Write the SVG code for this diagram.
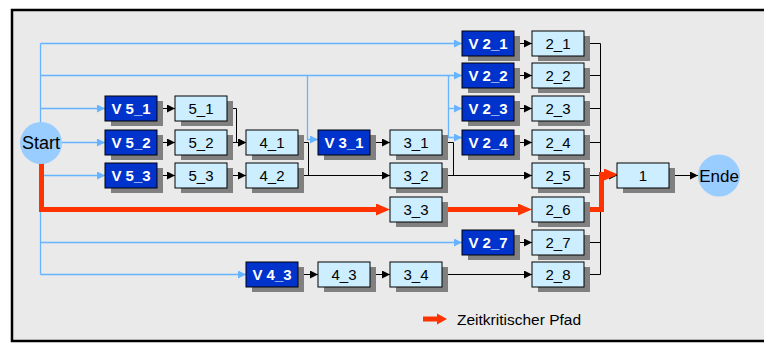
<svg xmlns="http://www.w3.org/2000/svg" width="764" height="343" viewBox="0 0 764 343">
<style>
text{font-family:"Liberation Sans",Arial,sans-serif;text-anchor:middle}
.sh{fill:#808080}
.v{fill:#0033cc;stroke:#000;stroke-width:1}
.n{fill:#cceeff;stroke:#000;stroke-width:1}
.vt{fill:#fff;font-weight:bold;font-size:15px}
.nt{fill:#000;font-size:15px}
.c{fill:#99ccff}
.ct{fill:#000;font-size:17px}
.bl{fill:none;stroke:#66b3ff;stroke-width:1.3}
.bk{fill:none;stroke:#000;stroke-width:1}
.rd{fill:none;stroke:#ff3300;stroke-width:5}
</style>
<defs>
<marker id="ab" markerUnits="userSpaceOnUse" markerWidth="8" markerHeight="8" refX="8" refY="4" orient="auto"><path d="M0,0 L8,4 L0,8 z" fill="#000"/></marker>
<marker id="au" markerUnits="userSpaceOnUse" markerWidth="8" markerHeight="8" refX="8" refY="4" orient="auto"><path d="M0,0 L8,4 L0,8 z" fill="#66b3ff"/></marker>
<marker id="ar" markerUnits="userSpaceOnUse" markerWidth="14" markerHeight="12" refX="0" refY="6" orient="auto"><path d="M0,0 L14,6 L0,12 z" fill="#ff3300"/></marker>
</defs>
<rect x="12" y="10" width="770" height="331" fill="#eaeaea" stroke="#000" stroke-width="2.5"/>

<g id="connectors">
<path class="bl" d="M40.5,43.5 V274.5"/>
<path class="bl" d="M40.5,43.5 H462" marker-end="url(#au)"/>
<path class="bl" d="M40.5,75.5 H462" marker-end="url(#au)"/>
<path class="bl" d="M307.5,75.5 V139.5 H318" marker-end="url(#au)"/>
<path class="bl" d="M448.5,75.5 V137.5 H462" marker-end="url(#au)"/>
<path class="bl" d="M448.5,108.5 H462" marker-end="url(#au)"/>
<path class="bl" d="M40.5,108.5 H105" marker-end="url(#au)"/>
<path class="bl" d="M62,142.5 H105" marker-end="url(#au)"/>
<path class="bl" d="M40.5,175.5 H105" marker-end="url(#au)"/>
<path class="bl" d="M40.5,242.5 H462" marker-end="url(#au)"/>
<path class="bl" d="M40.5,274.5 H246" marker-end="url(#au)"/>

<path class="bk" d="M157,108.5 H175" marker-end="url(#ab)"/>
<path class="bk" d="M157,142.5 H175" marker-end="url(#ab)"/>
<path class="bk" d="M157,175.5 H175" marker-end="url(#ab)"/>
<path class="bk" d="M227,108.5 H236.5 V142.5 H246" marker-end="url(#ab)"/>
<path class="bk" d="M227,142.5 H246" marker-end="url(#ab)"/>
<path class="bk" d="M227,175.5 H246" marker-end="url(#ab)"/>
<path class="bk" d="M298,142.5 H308.5 V175.5"/>
<path class="bk" d="M298,175.5 H390" marker-end="url(#ab)"/>
<path class="bk" d="M370,142.5 H390" marker-end="url(#ab)"/>
<path class="bk" d="M442,142.5 H453.5 V175.5"/>
<path class="bk" d="M442,175.5 H532" marker-end="url(#ab)"/>
<path class="bk" d="M514,43.5 H532" marker-end="url(#ab)"/>
<path class="bk" d="M514,75.5 H532" marker-end="url(#ab)"/>
<path class="bk" d="M514,108.5 H532" marker-end="url(#ab)"/>
<path class="bk" d="M514,142.5 H532" marker-end="url(#ab)"/>
<path class="bk" d="M514,242.5 H532" marker-end="url(#ab)"/>
<path class="bk" d="M298,274.5 H318" marker-end="url(#ab)"/>
<path class="bk" d="M370,274.5 H390" marker-end="url(#ab)"/>
<path class="bk" d="M442,274.5 H532" marker-end="url(#ab)"/>
<path class="bk" d="M585,43.5 H600.5 M585,75.5 H600.5 M585,108.5 H600.5 M585,142.5 H600.5 M585,175.5 H600.5 M585,242.5 H600.5 M585,274.5 H600.5"/>
<path class="bk" d="M600.5,43.5 V274.5"/>
<path class="bk" d="M600.5,175.5 H617" marker-end="url(#ab)"/>
<path class="bk" d="M669,175.5 H698" marker-end="url(#ab)"/>

<path class="rd" d="M41.5,160 V209.5 H376" marker-end="url(#ar)"/>
<path class="rd" d="M442,209.5 H518" marker-end="url(#ar)"/>
<path class="rd" d="M585,209.5 H601.5 V174.5 H604" marker-end="url(#ar)"/>
</g>

<g id="Start"><circle class="c" cx="41" cy="143" r="21"/><text class="ct" x="41" y="149" style="font-size:18px">Start</text></g>
<g id="Ende"><circle class="c" cx="719" cy="175.5" r="21"/><text class="ct" x="719" y="181.5">Ende</text></g>

<g id="V5_1"><rect class="sh" x="111" y="101" width="52" height="25"/><rect class="v" x="105" y="96" width="52" height="25"/><text class="vt" x="131" y="114">V 5_1</text></g>
<g id="n5_1"><rect class="sh" x="181" y="101" width="52" height="25"/><rect class="n" x="175" y="96" width="52" height="25"/><text class="nt" x="201" y="114">5_1</text></g>
<g id="V5_2"><rect class="sh" x="111" y="135" width="52" height="25"/><rect class="v" x="105" y="130" width="52" height="25"/><text class="vt" x="131" y="148">V 5_2</text></g>
<g id="n5_2"><rect class="sh" x="181" y="135" width="52" height="25"/><rect class="n" x="175" y="130" width="52" height="25"/><text class="nt" x="201" y="148">5_2</text></g>
<g id="V5_3"><rect class="sh" x="111" y="168" width="52" height="25"/><rect class="v" x="105" y="163" width="52" height="25"/><text class="vt" x="131" y="181">V 5_3</text></g>
<g id="n5_3"><rect class="sh" x="181" y="168" width="52" height="25"/><rect class="n" x="175" y="163" width="52" height="25"/><text class="nt" x="201" y="181">5_3</text></g>
<g id="n4_1"><rect class="sh" x="252" y="135" width="52" height="25"/><rect class="n" x="246" y="130" width="52" height="25"/><text class="nt" x="272" y="148">4_1</text></g>
<g id="n4_2"><rect class="sh" x="252" y="168" width="52" height="25"/><rect class="n" x="246" y="163" width="52" height="25"/><text class="nt" x="272" y="181">4_2</text></g>
<g id="V3_1"><rect class="sh" x="324" y="135" width="52" height="25"/><rect class="v" x="318" y="130" width="52" height="25"/><text class="vt" x="344" y="148">V 3_1</text></g>
<g id="n3_1"><rect class="sh" x="396" y="135" width="52" height="25"/><rect class="n" x="390" y="130" width="52" height="25"/><text class="nt" x="416" y="148">3_1</text></g>
<g id="n3_2"><rect class="sh" x="396" y="168" width="52" height="25"/><rect class="n" x="390" y="163" width="52" height="25"/><text class="nt" x="416" y="181">3_2</text></g>
<g id="n3_3"><rect class="sh" x="396" y="202" width="52" height="25"/><rect class="n" x="390" y="197" width="52" height="25"/><text class="nt" x="416" y="215">3_3</text></g>
<g id="V4_3"><rect class="sh" x="252" y="267" width="52" height="25"/><rect class="v" x="246" y="262" width="52" height="25"/><text class="vt" x="272" y="280">V 4_3</text></g>
<g id="n4_3"><rect class="sh" x="324" y="267" width="52" height="25"/><rect class="n" x="318" y="262" width="52" height="25"/><text class="nt" x="344" y="280">4_3</text></g>
<g id="n3_4"><rect class="sh" x="396" y="267" width="52" height="25"/><rect class="n" x="390" y="262" width="52" height="25"/><text class="nt" x="416" y="280">3_4</text></g>
<g id="V2_1"><rect class="sh" x="468" y="36" width="52" height="25"/><rect class="v" x="462" y="31" width="52" height="25"/><text class="vt" x="488" y="49">V 2_1</text></g>
<g id="V2_2"><rect class="sh" x="468" y="68" width="52" height="25"/><rect class="v" x="462" y="63" width="52" height="25"/><text class="vt" x="488" y="81">V 2_2</text></g>
<g id="V2_3"><rect class="sh" x="468" y="101" width="52" height="25"/><rect class="v" x="462" y="96" width="52" height="25"/><text class="vt" x="488" y="114">V 2_3</text></g>
<g id="V2_4"><rect class="sh" x="468" y="135" width="52" height="25"/><rect class="v" x="462" y="130" width="52" height="25"/><text class="vt" x="488" y="148">V 2_4</text></g>
<g id="V2_7"><rect class="sh" x="468" y="235" width="52" height="25"/><rect class="v" x="462" y="230" width="52" height="25"/><text class="vt" x="488" y="248">V 2_7</text></g>
<g id="n2_1"><rect class="sh" x="538" y="36" width="52" height="25"/><rect class="n" x="532" y="31" width="52" height="25"/><text class="nt" x="558" y="49">2_1</text></g>
<g id="n2_2"><rect class="sh" x="538" y="68" width="52" height="25"/><rect class="n" x="532" y="63" width="52" height="25"/><text class="nt" x="558" y="81">2_2</text></g>
<g id="n2_3"><rect class="sh" x="538" y="101" width="52" height="25"/><rect class="n" x="532" y="96" width="52" height="25"/><text class="nt" x="558" y="114">2_3</text></g>
<g id="n2_4"><rect class="sh" x="538" y="135" width="52" height="25"/><rect class="n" x="532" y="130" width="52" height="25"/><text class="nt" x="558" y="148">2_4</text></g>
<g id="n2_5"><rect class="sh" x="538" y="168" width="52" height="25"/><rect class="n" x="532" y="163" width="52" height="25"/><text class="nt" x="558" y="181">2_5</text></g>
<g id="n2_6"><rect class="sh" x="538" y="202" width="52" height="25"/><rect class="n" x="532" y="197" width="52" height="25"/><text class="nt" x="558" y="215">2_6</text></g>
<g id="n2_7"><rect class="sh" x="538" y="235" width="52" height="25"/><rect class="n" x="532" y="230" width="52" height="25"/><text class="nt" x="558" y="248">2_7</text></g>
<g id="n2_8"><rect class="sh" x="538" y="267" width="52" height="25"/><rect class="n" x="532" y="262" width="52" height="25"/><text class="nt" x="558" y="280">2_8</text></g>
<g id="n1"><rect class="sh" x="623" y="168" width="52" height="25"/><rect class="n" x="617" y="163" width="52" height="25"/><text class="nt" x="643" y="181">1</text></g>

<g id="legend">
<path d="M423,316.5 H437 V313.5 L447,319 L437,324.5 V321.5 H423 z" fill="#ff3300"/>
<text x="457" y="325" style="text-anchor:start;font-size:15.5px" fill="#000">Zeitkritischer Pfad</text>
</g>
</svg>
